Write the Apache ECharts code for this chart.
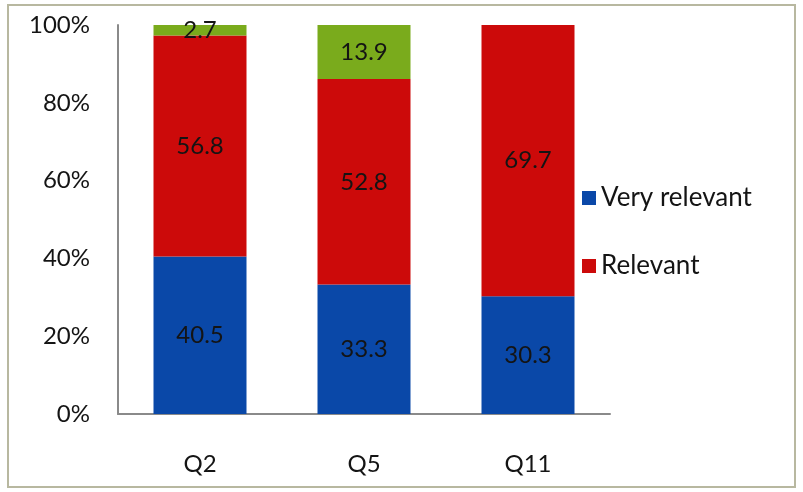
<!DOCTYPE html>
<html>
<head>
<meta charset="utf-8">
<script src="https://cdn.jsdelivr.net/npm/echarts@6/dist/echarts.min.js"></script>
<style>
  html, body { margin: 0; padding: 0; background: #fff; }
  #chart { width: 803px; height: 492px; }
</style>
</head>
<body>
<div id="chart"></div>
<script>
var questions = ['Q2', 'Q5', 'Q11'];
var veryRelevant = [40.5, 33.3, 30.3];
var relevant = [56.8, 52.8, 69.7];
var other = [2.7, 13.9, 0];
var yTicks = [0, 20, 40, 60, 80, 100];

var chartDom = document.getElementById('chart');
var myChart = echarts.init(chartDom);
var fontName = 'Lato';

// étiquette dans la barre, cachée si la valeur est nulle
function barLabel() {
    return {
        show: true,
        position: 'inside',
        color: '#141414',
        fontFamily: fontName,
        fontSize: 24,
        formatter: function(p) { return p.value ? p.value.toFixed(1) : ''; }
    };
}

var option = {
    animation: false,
    backgroundColor: '#fff',
    graphic: [{
        type: 'rect',
        shape: { x: 8, y: 5, width: 787, height: 482 },
        style: { fill: 'none', stroke: '#b8b8a0', lineWidth: 2 }
    }],
    grid: { left: 118, right: 193, top: 25, bottom: 78 },
    legend: {
        data: ['Very relevant', 'Relevant'],
        orient: 'vertical',
        left: 577,
        top: 180,
        itemGap: 42,
        itemWidth: 14,
        itemHeight: 14,
        icon: 'rect',
        textStyle: { fontFamily: fontName, fontSize: 26, color: '#141414' }
    },
    xAxis: {
        type: 'category',
        data: questions,
        axisLine: { lineStyle: { color: '#8a8a8a', width: 2 } },
        axisTick: { show: false },
        axisLabel: { fontFamily: fontName, fontSize: 24, color: '#141414', margin: 38 }
    },
    yAxis: {
        type: 'value',
        min: yTicks[0],
        max: yTicks[yTicks.length - 1],
        interval: 20,
        axisLine: { show: true, lineStyle: { color: '#8a8a8a', width: 2 } },
        axisTick: { show: false },
        splitLine: { show: false },
        axisLabel: { fontFamily: fontName, fontSize: 24, color: '#141414', margin: 28,
            formatter: '{value}%' }
    },
    series: [
        { name: 'Very relevant', type: 'bar', stack: 'total', data: veryRelevant,
          barWidth: 93, itemStyle: { color: '#0a48a8' }, label: barLabel() },
        { name: 'Relevant', type: 'bar', stack: 'total', data: relevant,
          itemStyle: { color: '#cc0a0a' }, label: barLabel() },
        { name: 'Other', type: 'bar', stack: 'total', data: other,
          itemStyle: { color: '#7aab1c' }, label: barLabel() }
    ]
};

myChart.setOption(option);
</script>
</body>
</html>
